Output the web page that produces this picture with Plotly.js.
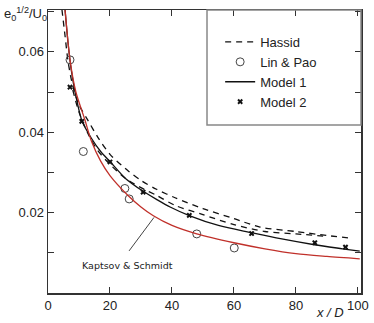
<!DOCTYPE html>
<html>
<head>
<meta charset="utf-8">
<script src="https://cdn.plot.ly/plotly-3.0.1.min.js"></script>
<style>
  html, body { margin: 0; padding: 0; background: #fff; }
  #chart { width: 374px; height: 323px; }
</style>
</head>
<body>
<div id="chart"></div>
<script>
// Hassid (dashed, two branches)
const hassidUpperX = [4.5, 5.5, 6.5, 8, 10, 12.7, 16.2, 20, 26, 30, 35, 41, 50, 60, 68.4, 80, 90, 97];
const hassidUpperY = [0.0705, 0.064, 0.0575, 0.0515, 0.0468, 0.0432, 0.0386, 0.0345, 0.0303, 0.028, 0.0258, 0.0237, 0.021, 0.0185, 0.0164, 0.0153, 0.0143, 0.0137];
const hassidLowerX = [8, 10, 13, 16, 20, 25, 30, 35, 41, 50, 60, 70, 80, 90];
const hassidLowerY = [0.0505, 0.045, 0.0395, 0.0355, 0.032, 0.0285, 0.0262, 0.0243, 0.0218, 0.0195, 0.017, 0.0153, 0.0147, 0.0141];

// Lin & Pao (open circles)
const linPaoX = [7.1, 11.4, 24.8, 26.2, 48, 60.1];
const linPaoY = [0.058, 0.0352, 0.026, 0.0234, 0.0147, 0.0112];

// Model 1 (solid black)
const model1X = [5.5, 6.5, 7.5, 9, 11, 14, 17, 20, 25, 30.7, 35, 39.4, 45.8, 55, 65.7, 75, 86, 95, 100.6];
const model1Y = [0.0705, 0.062, 0.0555, 0.049, 0.0427, 0.0385, 0.0352, 0.0327, 0.0285, 0.0253, 0.0233, 0.0214, 0.0192, 0.0168, 0.015, 0.0135, 0.012, 0.011, 0.0104];

// Model 2 (crosses)
const model2X = [7.1, 10.9, 20, 30.7, 45.6, 65.7, 86.1, 96];
const model2Y = [0.0512, 0.0427, 0.0326, 0.0251, 0.0193, 0.0148, 0.0125, 0.0114];

// Kaptsov & Schmidt (red)
const kaptsovX = [5.5, 7.1, 9, 11.9, 14, 17, 20, 25.9, 30, 34, 40, 48, 60, 70, 80, 90, 100.6];
const kaptsovY = [0.0705, 0.058, 0.05, 0.0431, 0.0378, 0.0328, 0.0292, 0.0242, 0.0214, 0.0192, 0.0168, 0.0147, 0.0125, 0.011, 0.0098, 0.0091, 0.0085];

// Axis ticks
const yTickVals = [0.01, 0.02, 0.03, 0.04, 0.05, 0.06, 0.07];
const yTickText = ['', '0.02', '', '0.04', '', '0.06', ''];
const xTickVals = [0, 20, 40, 60, 80, 100];

const dash = '6px,5px';

const traces = [
    {
        x: hassidUpperX, y: hassidUpperY, mode: 'lines', name: 'Hassid',
        line: { color: '#111', width: 1.3, dash: dash, shape: 'spline', smoothing: 0.8 }
    },
    {
        x: hassidLowerX, y: hassidLowerY, mode: 'lines', name: 'Hassid', showlegend: false,
        line: { color: '#111', width: 1.3, dash: dash, shape: 'spline', smoothing: 0.8 }
    },
    {
        x: linPaoX, y: linPaoY, mode: 'markers', name: 'Lin & Pao',
        marker: { symbol: 'circle-open', size: 8, color: '#444', line: { width: 1, color: '#444' } }
    },
    {
        x: model1X, y: model1Y, mode: 'lines', name: 'Model 1',
        line: { color: '#111', width: 1.3, shape: 'spline', smoothing: 0.8 }
    },
    {
        x: model2X, y: model2Y, mode: 'markers', name: 'Model 2',
        marker: { symbol: 'x', size: 5, color: '#111' }
    },
    {
        x: kaptsovX, y: kaptsovY, mode: 'lines', name: 'Kaptsov & Schmidt', showlegend: false,
        line: { color: '#c0302a', width: 1.3, shape: 'spline', smoothing: 0.8 }
    }
];

const layout = {
    width: 374,
    height: 323,
    paper_bgcolor: '#fff',
    plot_bgcolor: '#fff',
    margin: { l: 48, r: 13, t: 10, b: 30 },
    font: { family: 'Liberation Sans, Arial, sans-serif', size: 13, color: '#222' },
    showlegend: true,
    legend: {
        x: 0.55, xanchor: 'left',
        y: 0.94, yanchor: 'top',
        bgcolor: 'rgba(0,0,0,0)',
        borderwidth: 0,
        font: { size: 13, color: '#222' },
        tracegroupgap: 0
    },
    xaxis: {
        range: [0, 101],
        tickvals: xTickVals,
        ticks: 'inside', ticklen: 6, tickcolor: '#333',
        showline: true, linecolor: '#333', linewidth: 1.5, mirror: 'ticks',
        showgrid: false, zeroline: false,
        tickfont: { size: 13, color: '#222' }
    },
    yaxis: {
        range: [0, 0.0704],
        tickvals: yTickVals, ticktext: yTickText,
        ticks: 'inside', ticklen: 6, tickcolor: '#333',
        showline: true, linecolor: '#333', linewidth: 1.5, mirror: 'ticks',
        showgrid: false, zeroline: false,
        tickfont: { size: 13, color: '#222' }
    },
    shapes: [
        // legend frame
        {
            type: 'rect', xref: 'paper', yref: 'paper',
            x0: 0.508, x1: 1, y0: 0.594, y1: 1,
            line: { color: '#888', width: 1.5 }, fillcolor: 'rgba(0,0,0,0)'
        }
    ],
    annotations: [
        {
            xref: 'paper', yref: 'paper', x: -0.147, y: 0.985,
            xanchor: 'left', yanchor: 'middle', showarrow: false,
            text: 'e<sub>0</sub><sup>1/2</sup>/U<sub>0</sub>',
            font: { size: 13, color: '#222' }
        },
        {
            xref: 'paper', yref: 'paper', x: 0.952, y: -0.07,
            xanchor: 'right', yanchor: 'middle', showarrow: false,
            text: '<i>x / D</i>',
            font: { size: 13, color: '#222' }
        },
        {
            x: 25.8, y: 0.0068, showarrow: false,
            text: 'Kaptsov & Schmidt',
            font: { family: 'DejaVu Sans, sans-serif', size: 9.5, color: '#222' }
        },
        {
            x: 34.2, y: 0.0188, ax: 25.8, ay: 0.0101, axref: 'x', ayref: 'y',
            text: '', showarrow: true, arrowhead: 0, arrowwidth: 1, arrowcolor: '#444',
            standoff: 0, startstandoff: 0
        }
    ]
};

Plotly.newPlot('chart', traces, layout, { displayModeBar: false, staticPlot: true });
</script>
</body>
</html>
